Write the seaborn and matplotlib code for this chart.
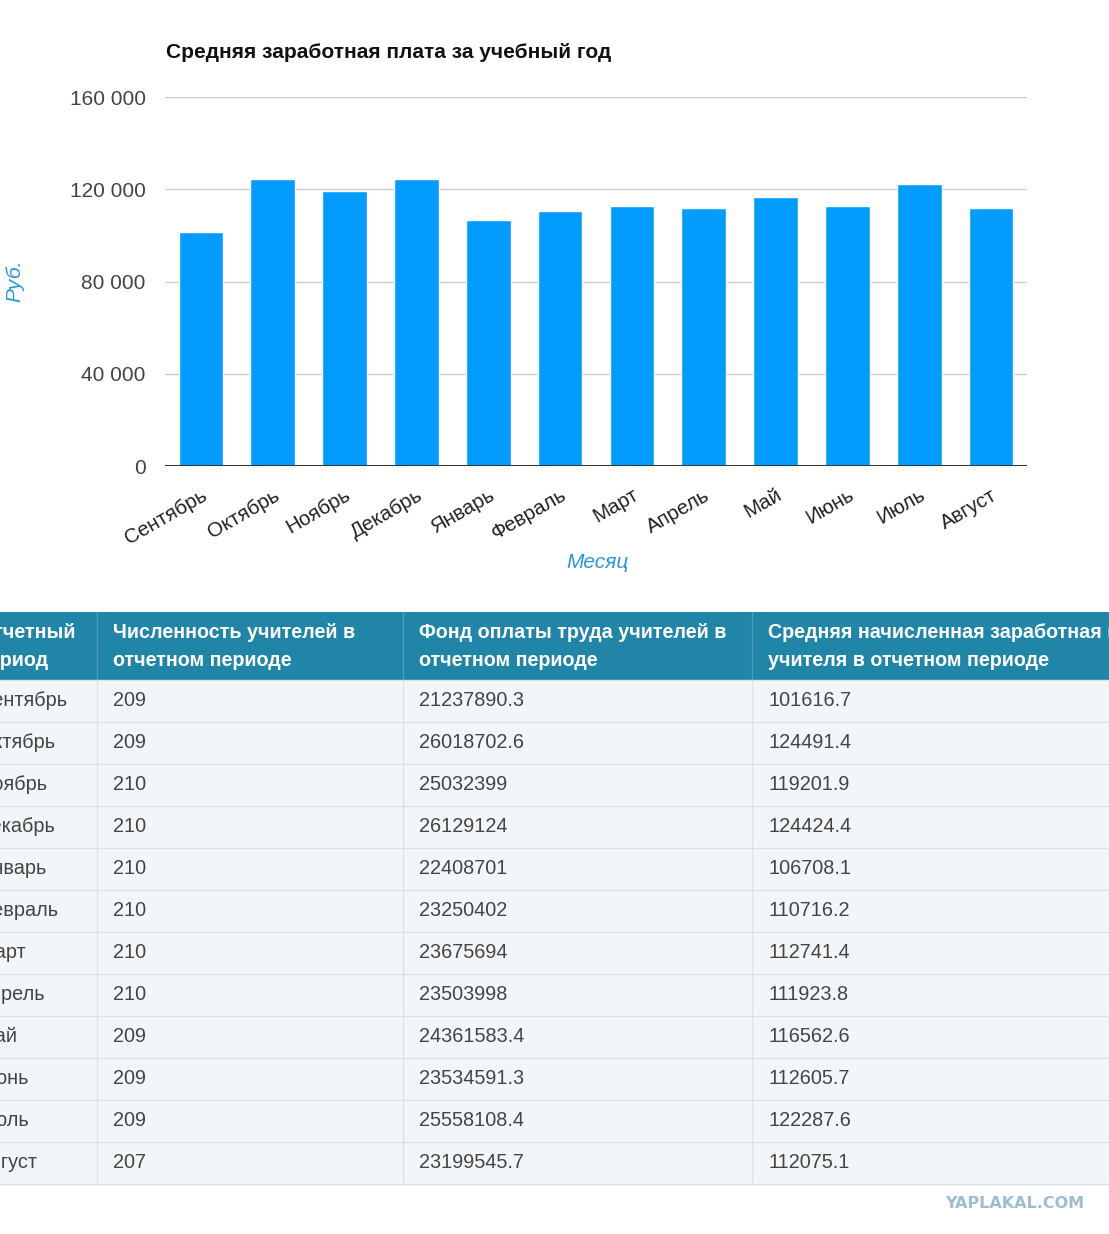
import matplotlib
matplotlib.use("Agg")
import matplotlib.pyplot as plt
import seaborn as sns
from matplotlib.patches import Rectangle
from matplotlib.ticker import FuncFormatter

# ---------- данные ----------
months = ["Сентябрь", "Октябрь", "Ноябрь", "Декабрь", "Январь", "Февраль",
          "Март", "Апрель", "Май", "Июнь", "Июль", "Август"]
teachers = [209, 209, 210, 210, 210, 210, 210, 210, 209, 209, 209, 207]
fund = [21237890.3, 26018702.6, 25032399, 26129124, 22408701, 23250402,
        23675694, 23503998, 24361583.4, 23534591.3, 25558108.4, 23199545.7]
salary = [101616.7, 124491.4, 119201.9, 124424.4, 106708.1, 110716.2,
          112741.4, 111923.8, 116562.6, 112605.7, 122287.6, 112075.1]
headers = [["Отчетный", "период"],
           ["Численность учителей в", "отчетном периоде"],
           ["Фонд оплаты труда учителей в", "отчетном периоде"],
           ["Средняя начисленная заработная плата", "учителя в отчетном периоде"]]
y_ticks = [0, 40000, 80000, 120000, 160000]

W, H = 1109, 1234
BAR = "#039cfd"
ACCENT = "#2a97dd"
HEAD = "#2185a7"

sns.set_theme(style="white")
plt.rcParams["font.family"] = ["Liberation Sans", "DejaVu Sans"]

fig = plt.figure(figsize=(W / 100, H / 100), dpi=100)

# ---------- таблица (в пикселях) ----------
tab = fig.add_axes([0, 0, 1, 1])
tab.set_xlim(0, W)
tab.set_ylim(H, 0)
tab.axis("off")

col_x = [0, 97, 403, 752, W]
text_x = [-22, 113, 419, 768]
head_top, head_bot, row_h = 612, 680, 42

tab.add_patch(Rectangle((0, head_top), W, head_bot - head_top, color=HEAD, lw=0))
tab.add_patch(Rectangle((0, head_bot), W, row_h * len(months), color="#f3f6f8", lw=0))
for x in col_x[1:-1]:
    tab.plot([x, x], [head_top, head_bot], color="#4a9ebb", lw=1)
    tab.plot([x, x], [head_bot, head_bot + row_h * len(months)], color="#dde2e6", lw=1)
for i in range(len(months) + 1):
    yy = head_bot + i * row_h
    tab.plot([0, W], [yy, yy], color="#dde2e6", lw=1)

# шапка таблицы (крайние колонки обрезаны краем, как на скриншоте)
for j, lines in enumerate(headers):
    for k, line in enumerate(lines):
        tab.text(text_x[j], 633 + 27 * k, line, color="white", fontsize=14.2,
                 fontweight="bold", va="center", ha="left")


def fmt(v):
    s = f"{v:.1f}"
    return s[:-2] if s.endswith(".0") else s


for i, m in enumerate(months):
    yc = head_bot + i * row_h + row_h / 2
    cells = [m, str(teachers[i]), fmt(fund[i]), fmt(salary[i])]
    for j, c in enumerate(cells):
        tab.text(text_x[j], yc, c, color="#444444", fontsize=14.3, va="center", ha="left")

tab.text(1015, 1203, "YAPLAKAL.COM", color="#9fbdd0", fontsize=11.5, fontweight="bold",
         family="DejaVu Sans", ha="center", va="center")

# ---------- график ----------
left, right, top, bottom = 165, 1027, 97, 466
ax = fig.add_axes([left / W, 1 - bottom / H, (right - left) / W, (bottom - top) / H])
ax.set_facecolor("none")
sns.barplot(x=months, y=salary, color=BAR, width=0.62, saturation=1, ax=ax, zorder=3)
ax.set_ylim(0, 160000)
ax.set_xlim(-0.5, len(months) - 0.5)
ax.set_yticks(y_ticks)
ax.yaxis.set_major_formatter(FuncFormatter(lambda v, p: f"{int(v):,}".replace(",", " ")))
ax.grid(axis="y", color="#cccccc", lw=1, zorder=0)
ax.axhline(0, color="#333333", lw=1.4, zorder=4)
for s in ax.spines.values():
    s.set_visible(False)
ax.tick_params(axis="y", length=0, pad=14, labelsize=15, labelcolor="#444444")
ax.tick_params(axis="x", length=0, pad=14, labelsize=14.8, labelcolor="#222222")
ax.set_xticks(range(len(months)))
ax.set_xticklabels(months, rotation=30, ha="right", rotation_mode="anchor")
ax.set_xlabel("")
ax.set_ylabel("")

fig.text(166 / W, 1 - 52 / H, "Средняя заработная плата за учебный год", fontsize=15,
         fontweight="bold", color="#111111", ha="left", va="center")
fig.text(15 / W, 1 - 281 / H, "Руб.", fontsize=15, style="italic", color=ACCENT,
         rotation=90, ha="center", va="center")
fig.text(597 / W, 1 - 562 / H, "Месяц", fontsize=15, style="italic", color=ACCENT,
         ha="center", va="center")

fig.savefig("out.png", dpi=100, facecolor="white")
